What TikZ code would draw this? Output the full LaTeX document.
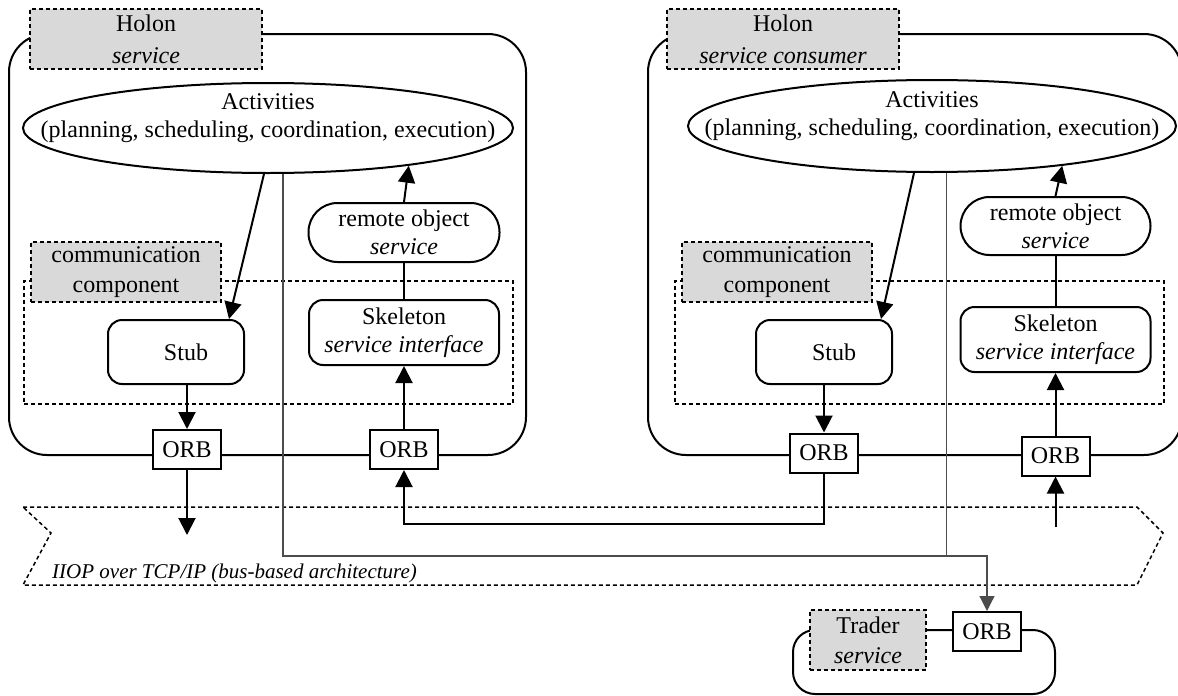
\documentclass[tikz,border=0pt]{standalone}
\usepackage{fontspec}
\setmainfont{Liberation Serif}
\usetikzlibrary{arrows.meta,shapes.geometric}
\definecolor{tagfill}{RGB}{217,217,217}
\tikzset{
  holon/.style={draw, line width=2pt, rounded corners=38pt, inner sep=0pt},
  tag/.style={draw, dash pattern=on 4pt off 3pt, line width=1.5pt, fill=tagfill,
              inner sep=0pt, align=center},
  dotbox/.style={draw, dash pattern=on 4pt off 3pt, line width=1.5pt, inner sep=0pt},
  oval/.style={draw, ellipse, line width=2pt, inner sep=0pt},
  pill/.style={draw, rounded corners=29pt, line width=2pt, inner sep=0pt, align=center},
  rbox/.style={draw, rounded corners=14pt, line width=2pt, inner sep=0pt, align=center},
  orb/.style={draw, fill=white, line width=2pt, minimum width=68pt, minimum height=39pt,
              inner sep=0pt},
  link/.style={line width=2pt},
  arr/.style={line width=2pt, -{Triangle[length=17pt,width=17pt]}},
  wire/.style={line width=1.2pt, draw=black!70},
  wirearr/.style={wire, -{Triangle[length=15pt,width=15pt]}},
}
\newcommand{\actext}{\makebox[0pt]{\raisebox{4pt}[0pt][0pt]{\begin{tabular}{@{}c@{}}Activities\\(planning, scheduling, coordination, execution)\end{tabular}}}}
\begin{document}
\begin{tikzpicture}[x=1pt, y=-1pt, font=\fontsize{24}{28}\selectfont]
\useasboundingbox (0,0) rectangle (1178,696);

% ---------- holon offering the service ----------
\node[holon, minimum width=517pt, minimum height=421pt] (holonL) at (267.5,244.5) {};
\node[tag, minimum width=232pt, minimum height=60pt, font=\fontsize{24}{32}\selectfont]
  (labelL) at (146,39) {Holon\\\textit{service}};
\node[oval, minimum width=490pt, minimum height=90pt] (actL) at (268,128) {\actext};
\node[pill, minimum width=191pt, minimum height=59pt] (remL) at (404,232.5)
  {remote object\\\textit{service}};
\node[dotbox, minimum width=489pt, minimum height=123pt] (commL) at (268.5,342.5) {};
\node[tag, minimum width=190pt, minimum height=60pt, font=\fontsize{24}{30}\selectfont]
  (commlabL) at (126,272) {communication\\component};
\node[rbox, minimum width=136pt, minimum height=64pt] (stubL) at (176,352) {\hspace*{20pt}Stub};
\node[rbox, minimum width=190pt, minimum height=65pt] (skelL) at (404,332.5)
  {Skeleton\\\textit{service interface}};
\node[orb] (orbL1) at (187,449.5) {ORB};
\node[orb] (orbL2) at (404,449.5) {ORB};

% ---------- holon consuming the service ----------
\node[holon, minimum width=534pt, minimum height=421pt] (holonR) at (915,244.5) {};
\node[tag, minimum width=232pt, minimum height=60pt, font=\fontsize{24}{32}\selectfont]
  (labelR) at (783,39) {Holon\\\textit{service consumer}};
\node[oval, minimum width=488pt, minimum height=92pt] (actR) at (932,126) {\actext};
\node[pill, minimum width=190pt, minimum height=58pt] (remR) at (1055.5,226)
  {remote object\\\textit{service}};
\node[dotbox, minimum width=489pt, minimum height=123pt] (commR) at (919.5,342.5) {};
\node[tag, minimum width=190pt, minimum height=60pt, font=\fontsize{24}{30}\selectfont]
  (commlabR) at (777,272) {communication\\component};
\node[rbox, minimum width=136pt, minimum height=64pt] (stubR) at (824,352) {\hspace*{20pt}Stub};
\node[rbox, minimum width=190pt, minimum height=65pt] (skelR) at (1055.5,339.5)
  {Skeleton\\\textit{service interface}};
\node[orb] (orbR1) at (824,453) {ORB};
\node[orb] (orbR2) at (1055.5,456) {ORB};

% ---------- bus ----------
\draw[dash pattern=on 4pt off 3pt, line width=1.5pt]
  (23,507) -- (1137,507) -- (1163,533) -- (1137,585) -- (23,585) -- (51,533) -- cycle;
\node[anchor=base west, inner sep=0pt, font=\fontsize{21}{24}\selectfont\itshape]
  (bus) at (52,578) {IIOP over TCP/IP (bus-based architecture)};

% ---------- trader ----------
\node[draw, line width=2pt, rounded corners=22pt, inner sep=0pt,
      minimum width=262pt, minimum height=64pt] (trader) at (924,662) {};
\node[tag, minimum width=116pt, minimum height=60pt, font=\fontsize{24}{30}\selectfont]
  (labelT) at (868,640) {Trader\\\textit{service}};
\node[orb] (orbT) at (987,631.5) {ORB};

% free ends of connectors
\coordinate (outL) at (187,535);
\coordinate (inR) at (1055.5,527);
\coordinate (wirerow) at (0,556);
\coordinate (tb) at (actR.-73 |- wirerow);

% ---------- connectors: left holon ----------
\draw[arr] (actL.-95) -- ([xshift=-16pt]stubL.north east);
\draw[arr] (remL.north) -- (actL.-15.4);
\draw[link] (remL.south) -- (skelL.north);
\draw[arr] (orbL2.north) -- (skelL.south);
\draw[arr] (orbL1.north |- stubL.south) -- (orbL1.north);
\draw[arr] (orbL1.south) -- (outL);

% ---------- connectors: right holon ----------
\draw[arr] (actR.-111.5) -- ([xshift=-12pt]stubR.north east);
\draw[arr] (remR.north) -- (actR.-17.9);
\draw[link] (remR.south) -- (skelR.north);
\draw[arr] (orbR2.north) -- (skelR.south);
\draw[arr] (stubR.south) -- (orbR1.north);
\draw[arr] (inR) -- (orbR2.south);

% request from consumer stub to service skeleton
\draw[arr] (orbR1.south) -- ++(0,50) -| (orbL2.south);

% lookup through the trader
\draw[wirearr] (actL.-72.7) |- (tb) -| (orbT.north);
\draw[wire] (actR.-73) -- (tb);
\end{tikzpicture}
\end{document}
